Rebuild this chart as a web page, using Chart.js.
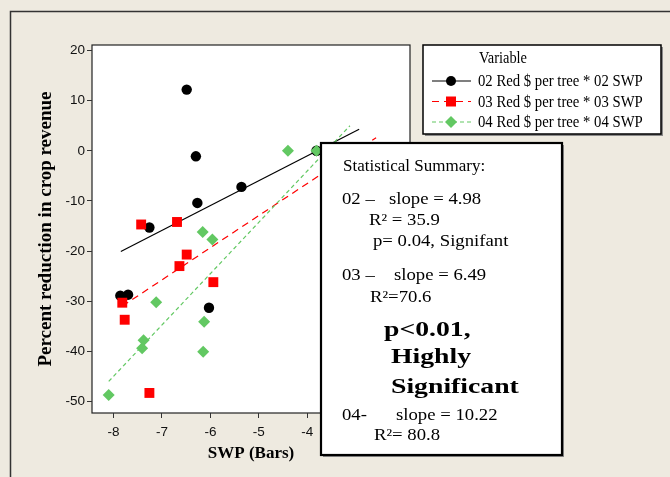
<!DOCTYPE html>
<html>
<head>
<meta charset="utf-8">
<title>SWP vs reduction in crop revenue</title>
<script src="https://cdn.jsdelivr.net/npm/chart.js"></script>
<style>
  body { margin: 0; background: #EEEAE0; }
  canvas { display: block; }
</style>
</head>
<body>
<canvas id="swp" width="670" height="477"></canvas>
<script>
// data
const swp02 = [-6.49, -6.30, -6.27, -5.36, -7.26, -7.86, -7.70, -6.03, -3.81];
const red02 = [12.2, -1.1, -10.4, -7.2, -15.3, -28.9, -28.7, -31.3, 0];
const swp03 = [-7.43, -6.69, -7.82, -7.77, -6.49, -6.64, -5.94, -7.26];
const red03 = [-14.7, -14.2, -30.3, -33.7, -20.7, -23.0, -26.2, -48.3];
const swp04 = [-4.40, -3.81, -6.16, -5.96, -7.12, -6.13, -7.38, -7.41, -6.15, -8.10];
const red04 = [0, 0, -16.2, -17.7, -30.2, -34.1, -37.8, -39.4, -40.1, -48.7];

// fitted line ends
const fitX02 = [-7.85, -2.93], fitY02 = [-20.1, 4.3];
const fitX03 = [-7.82, -2.58], fitY03 = [-31.0, 2.6];
const fitX04 = [-8.10, -3.12], fitY04 = [-46.0, 5.0];

const seriesNames = ['02 Red $ per tree * 02 SWP', '03 Red $ per tree * 03 SWP', '04 Red $ per tree * 04 SWP'];
const yTicks = [-50, -40, -30, -20, -10, 0, 10, 20];
const xTicks = [-8, -7, -6, -5, -4, -3, -2];

const BLACK = '#000000', RED = '#FF0000', GREEN = '#62C862';

const pts = (xs, ys) => xs.map((x, i) => ({x: x, y: ys[i]}));

function lineSet(xs, ys, color, dash, order) {
    return {data: pts(xs, ys), showLine: true, borderColor: color, borderWidth: 1.2,
        borderDash: dash, pointRadius: 0, order: order};
}
function pointSet(xs, ys, color, style, r, order) {
    return {data: pts(xs, ys), showLine: false, pointStyle: style, pointRadius: r,
        backgroundColor: color, borderColor: color, borderWidth: 0, order: order};
}

const serif = '"Liberation Serif", "Times New Roman", serif';

function txt(ctx, s, x, y, font, sx) {
    ctx.save();
    ctx.font = font;
    ctx.translate(x, y);
    ctx.scale(sx || 1, 1);
    ctx.fillText(s, 0, 0);
    ctx.restore();
}

function marker(ctx, style, x, y, color) {
    ctx.fillStyle = color;
    ctx.beginPath();
    if (style === 'circle') ctx.arc(x, y, 5, 0, Math.PI * 2);
    else if (style === 'rect') ctx.rect(x - 5, y - 5, 10, 10);
    else { ctx.moveTo(x, y - 6); ctx.lineTo(x + 6, y); ctx.lineTo(x, y + 6); ctx.lineTo(x - 6, y); ctx.closePath(); }
    ctx.fill();
}

function box(ctx, x, y, w, h, lw) {
    ctx.fillStyle = '#8a8a8a';
    ctx.fillRect(x + 2, y + 2, w, h);
    ctx.fillStyle = '#ffffff';
    ctx.fillRect(x, y, w, h);
    ctx.strokeStyle = '#000';
    ctx.lineWidth = lw;
    ctx.strokeRect(x, y, w, h);
}

const decor = {
    id: 'decor',
    beforeDraw(chart) {
        const ctx = chart.ctx, a = chart.chartArea;
        ctx.save();
        ctx.fillStyle = '#EEEAE0';
        ctx.fillRect(0, 0, chart.width, chart.height);
        ctx.strokeStyle = '#333';
        ctx.lineWidth = 1.5;
        ctx.beginPath();
        ctx.moveTo(10.5, chart.height);
        ctx.lineTo(10.5, 11.5);
        ctx.lineTo(chart.width, 11.5);
        ctx.stroke();
        ctx.fillStyle = '#fff';
        ctx.fillRect(a.left, a.top, a.right - a.left, a.bottom - a.top);
        ctx.strokeStyle = '#222';
        ctx.lineWidth = 1.2;
        ctx.strokeRect(a.left, a.top, a.right - a.left, a.bottom - a.top);
        ctx.restore();
    },
    afterDraw(chart) {
        const ctx = chart.ctx;
        ctx.save();
        ctx.textBaseline = 'alphabetic';

        // legend
        box(ctx, 423, 45, 238, 89, 1.5);
        ctx.fillStyle = '#000';
        txt(ctx, 'Variable', 479, 63, '16px ' + serif, 0.9);
        const cols = [BLACK, RED, GREEN], styles = ['circle', 'rect', 'diamond'];
        const dashes = [[], [7, 5], [4, 3]];
        seriesNames.forEach((name, i) => {
            const cy = 81 + i * 20.5;
            ctx.strokeStyle = cols[i];
            ctx.lineWidth = 1.2;
            ctx.setLineDash(dashes[i]);
            ctx.beginPath();
            ctx.moveTo(432, cy);
            ctx.lineTo(471, cy);
            ctx.stroke();
            ctx.setLineDash([]);
            marker(ctx, styles[i], 451, cy, cols[i]);
            ctx.fillStyle = '#000';
            txt(ctx, name, 478, cy + 5, '16px ' + serif, 0.92);
        });

        // statistical summary
        box(ctx, 321, 143, 241, 312, 2.2);
        ctx.fillStyle = '#000';
        const reg = '16px ' + serif, big = 'bold 22px ' + serif;
        txt(ctx, 'Statistical Summary:', 343, 171, '17px ' + serif, 1);
        txt(ctx, '02 \u2013', 342, 204, reg, 1.17);
        txt(ctx, 'slope = 4.98', 389, 204, reg, 1.17);
        txt(ctx, 'R\u00B2 = 35.9', 369, 225, reg, 1.17);
        txt(ctx, 'p= 0.04, Signifant', 373, 246, reg, 1.17);
        txt(ctx, '03 \u2013', 342, 280, reg, 1.17);
        txt(ctx, 'slope = 6.49', 394, 280, reg, 1.17);
        txt(ctx, 'R\u00B2=70.6', 370, 302, reg, 1.17);
        txt(ctx, 'p<0.01,', 384, 336, big, 1.26);
        txt(ctx, 'Highly', 391, 363, big, 1.26);
        txt(ctx, 'Significant', 391, 393, big, 1.26);
        txt(ctx, '04-', 342, 420, reg, 1.17);
        txt(ctx, 'slope = 10.22', 396, 420, reg, 1.17);
        txt(ctx, 'R\u00B2= 80.8', 374, 440, reg, 1.17);
        ctx.restore();
    }
};

const tickFont = {family: '"Liberation Sans", Arial, sans-serif', size: 13.5};

new Chart(document.getElementById('swp'), {
    type: 'scatter',
    data: {
        datasets: [
            pointSet(swp04, red04, GREEN, 'rectRot', 6, 0),
            pointSet(swp03, red03, RED, 'rect', 7, 1),
            pointSet(swp02, red02, BLACK, 'circle', 5.2, 2),
            lineSet(fitX04, fitY04, GREEN, [4, 3], 3),
            lineSet(fitX03, fitY03, RED, [7, 5], 4),
            lineSet(fitX02, fitY02, BLACK, [], 5)
        ]
    },
    options: {
        responsive: false,
        devicePixelRatio: 1,
        animation: false,
        layout: {padding: {left: 0, top: 45, right: 260, bottom: 0}},
        plugins: {legend: {display: false}, tooltip: {enabled: false}},
        scales: {
            x: {
                type: 'linear',
                min: -8.445, max: -1.88,
                afterFit: s => { s.height = 64; },
                afterBuildTicks: s => { s.ticks = xTicks.map(v => ({value: v})); },
                ticks: {font: tickFont, color: '#111', padding: 6},
                grid: {display: true, drawOnChartArea: false, tickLength: 5, color: '#333'},
                border: {display: false},
                title: {display: true, text: 'SWP (Bars)', color: '#000',
                    font: {family: serif, size: 17, weight: 'bold'}, padding: {top: 0, bottom: 13}}
            },
            y: {
                type: 'linear',
                min: -52.3, max: 21.1,
                afterFit: s => { s.width = 92; },
                afterBuildTicks: s => { s.ticks = yTicks.map(v => ({value: v})); },
                ticks: {font: tickFont, color: '#111', padding: 2},
                grid: {display: true, drawOnChartArea: false, tickLength: 5, color: '#333'},
                border: {display: false},
                title: {display: true, text: 'Percent reduction in crop revenue', color: '#000',
                    font: {family: serif, size: 19, weight: 'bold'}, padding: {top: 35, bottom: 0}}
            }
        }
    },
    plugins: [decor]
});
</script>
</body>
</html>
